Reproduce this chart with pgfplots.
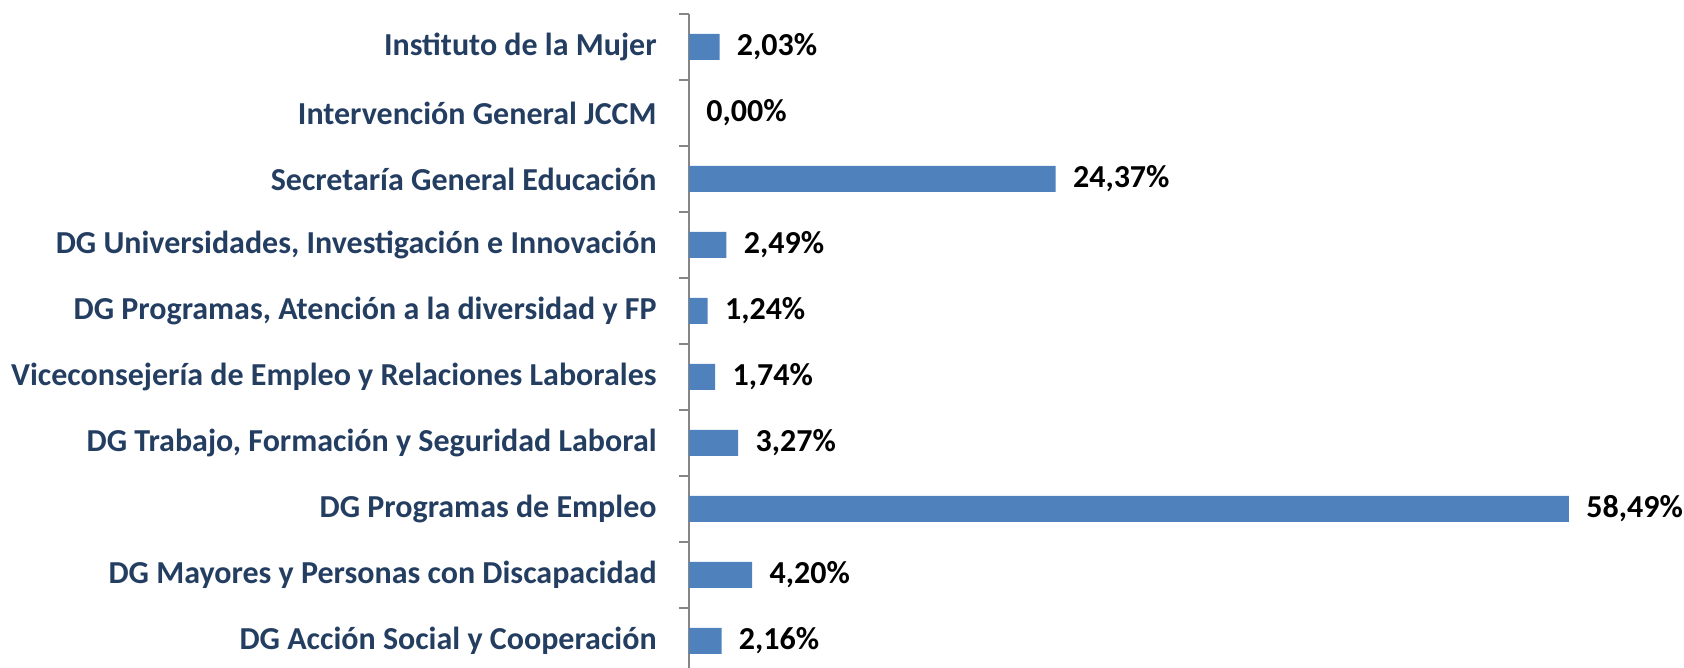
\documentclass[border=0pt]{standalone}
\usepackage{pgfplots}
\pgfplotsset{compat=1.18}
\usepackage{fontspec}
\setmainfont{Carlito}
\definecolor{barblue}{RGB}{79,129,189}
\definecolor{labblue}{RGB}{36,62,98}
\definecolor{axgray}{RGB}{134,134,134}
\pgfplotstableread{
y val
0 2.16
1 4.20
2 58.49
3 3.27
4 1.74
5 1.24
6 2.49
7 24.37
8 0.00
9 2.03
}\datatab
\begin{document}
\begin{tikzpicture}
\path[use as bounding box] (0,0) rectangle (842pt,334pt);
\begin{axis}[
  at={(344.5pt,-3pt)}, anchor=south west,
  scale only axis,
  width=451.35pt, height=330pt,
  xmin=0, xmax=60,
  ymin=-0.5, ymax=9.5,
  xbar, bar width=13pt,
  axis y line*=left,
  axis x line=none,
  axis line style={axgray, line width=0.7pt},
  ytick={0,...,9},
  yticklabels={DG Acción Social y Cooperación,DG Mayores y Personas con Discapacidad,DG Programas de Empleo,{DG Trabajo, Formación y Seguridad Laboral},Viceconsejería de Empleo y Relaciones Laborales,{DG Programas, Atención a la diversidad y FP},{DG Universidades, Investigación e Innovación},Secretaría General Educación,Intervención General JCCM,Instituto de la Mujer},
  major tick length=0pt,
  minor ytick={-0.5,0.5,...,9.5},
  minor tick length=5pt,
  tick align=outside,
  minor tick style={axgray, line width=0.7pt},
  yticklabel style={font=\fontsize{16}{18}\selectfont\bfseries, text=labblue, anchor=east, inner sep=0pt, xshift=-16pt},
  /pgf/number format/assume math mode=true,
  point meta=x,
  nodes near coords={\pgfmathprintnumber[fixed,fixed zerofill,precision=2,use comma]{\pgfplotspointmeta}\%},
  every node near coord/.append style={font=\fontsize{16}{18}\selectfont\bfseries, black, anchor=west, inner sep=0pt, xshift=8.5pt},
  clip=false,
]
\addplot[fill=barblue, draw=none] table[x=val, y=y] {\datatab};
\end{axis}
\end{tikzpicture}
\end{document}
